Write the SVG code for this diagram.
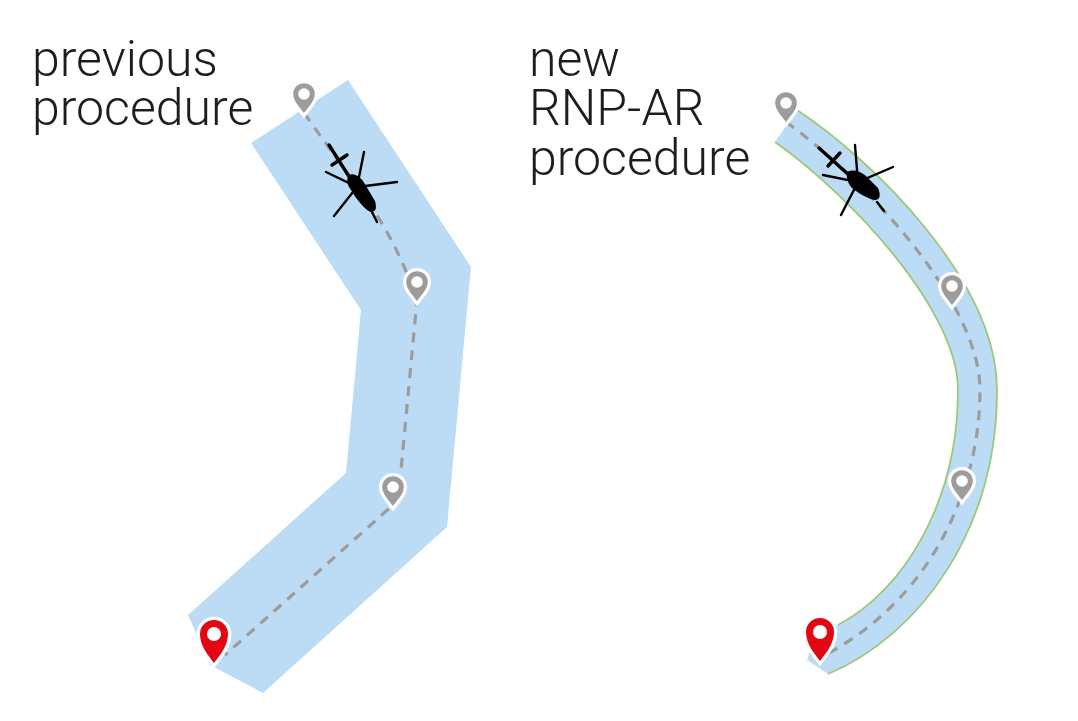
<svg xmlns="http://www.w3.org/2000/svg" width="1078" height="721" viewBox="0 0 1078 721">
<style>
.t{font-family:Roboto,"Liberation Sans",sans-serif;font-weight:300;font-size:50px;fill:#1d1d1b}
.band{fill:#bcdcf5;stroke:none}
.edge{fill:none;stroke:#9cc87a;stroke-width:1.8}
.route{fill:none;stroke:#9d9c9c;stroke-width:3.2;stroke-dasharray:10 8}
.halo{fill:#fff;stroke:#fff;stroke-width:6.5;stroke-linejoin:miter}
.g{fill:#9d9c9c}.r{fill:#e30613}
.hole{fill:#fff}
.h{fill:none;stroke:#000;stroke-width:2.4;stroke-linecap:round}
.ht{fill:none;stroke:#000;stroke-width:3.4;stroke-linecap:round}
.b{fill:#000}
</style>
<defs>
<path id="p" d="M0,0C-4.600,-6.200 -10.800,-12.300 -10.800,-19A10.800,10.800 0 1 1 10.800,-19C10.800,-12.300 4.600,-6.200 0,0Z"/>
<path id="q" d="M0,0C-6,-8 -14,-17 -14,-29A14,14 0 1 1 14,-29C14,-17 6,-8 0,0Z"/>
</defs>
<g id="label-previous"><text class="t" x="32" y="76">previous</text><text class="t" x="32" y="125">procedure</text></g>
<g id="label-new"><text class="t" x="529" y="76">new</text><text class="t" x="529" y="125">RNP-AR</text><text class="t" x="529" y="175">procedure</text></g>
<g id="corridor-previous"><polygon class="band" points="251,143 348,80 471,267 447,527 263,693 210,665 188,615 346,473 361,310"/></g>
<g id="corridor-new">
<path class="band" d="M797,110C870,158 997,280 997,390C997,530 920,635 828,674L807,660L815,637L838,625C905,590 958,500 958,390C958,310 850,195 775,142Z"/>
<path class="edge" d="M797,110C870,158 997,280 997,390C997,530 920,635 828,674"/>
<path class="edge" d="M775,142C850,195 958,310 958,390C958,500 905,590 838,625"/>
</g>
<g id="connectors">
<path class="route" d="M304,113L370,205Q398,245 417,300L401,470L393,505L225,655"/>
<path class="route" d="M786,122C860,175 980,300 980,390C980,490 930,600 825,655"/>
</g>
<g id="helicopter-previous">
<path class="ht" d="M329,145L350,178M332,165L347,155"/>
<path class="h" d="M364,152L357,187L397,182M326,172L357,187L334,216M371,210L377,222"/>
<path class="b" d="M349,175C353,173 359,176 363,181L375,201C377,208 376,212 371,212C365,210 357,200 351,190C347,185 346,179 349,175Z"/>
</g>
<g id="helicopter-new">
<path class="ht" d="M819,148L850,176M828,166L840,153"/>
<path class="h" d="M855,145L858,182L893,167M823,175L858,182L841,215M877,202L884,211"/>
<path class="b" d="M847,172C853,169 860,171 866,176L878,188C881,195 880,200 875,200C868,199 858,193 852,188C848,184 846,177 847,172Z"/>
</g>
<g id="pin-1"><use href="#p" class="halo" x="304" y="113"/><use href="#p" class="g" x="304" y="113"/><circle class="hole" cx="304" cy="94" r="5.800"/></g>
<g id="pin-2"><use href="#p" class="halo" x="417" y="301"/><use href="#p" class="g" x="417" y="301"/><circle class="hole" cx="417" cy="282" r="5.800"/></g>
<g id="pin-3"><use href="#p" class="halo" x="393" y="506"/><use href="#p" class="g" x="393" y="506"/><circle class="hole" cx="393" cy="487" r="5.800"/></g>
<g id="pin-4"><use href="#q" class="halo" x="214" y="663"/><use href="#q" class="r" x="214" y="663"/><circle class="hole" cx="214" cy="634" r="7"/></g>
<g id="pin-5"><use href="#p" class="halo" x="786" y="122"/><use href="#p" class="g" x="786" y="122"/><circle class="hole" cx="786" cy="103" r="5.800"/></g>
<g id="pin-6"><use href="#p" class="halo" x="952" y="305"/><use href="#p" class="g" x="952" y="305"/><circle class="hole" cx="952" cy="286" r="5.800"/></g>
<g id="pin-7"><use href="#p" class="halo" x="962" y="500"/><use href="#p" class="g" x="962" y="500"/><circle class="hole" cx="962" cy="481" r="5.800"/></g>
<g id="pin-8"><use href="#q" class="halo" x="820" y="661"/><use href="#q" class="r" x="820" y="661"/><circle class="hole" cx="820" cy="632" r="7"/></g>
</svg>
